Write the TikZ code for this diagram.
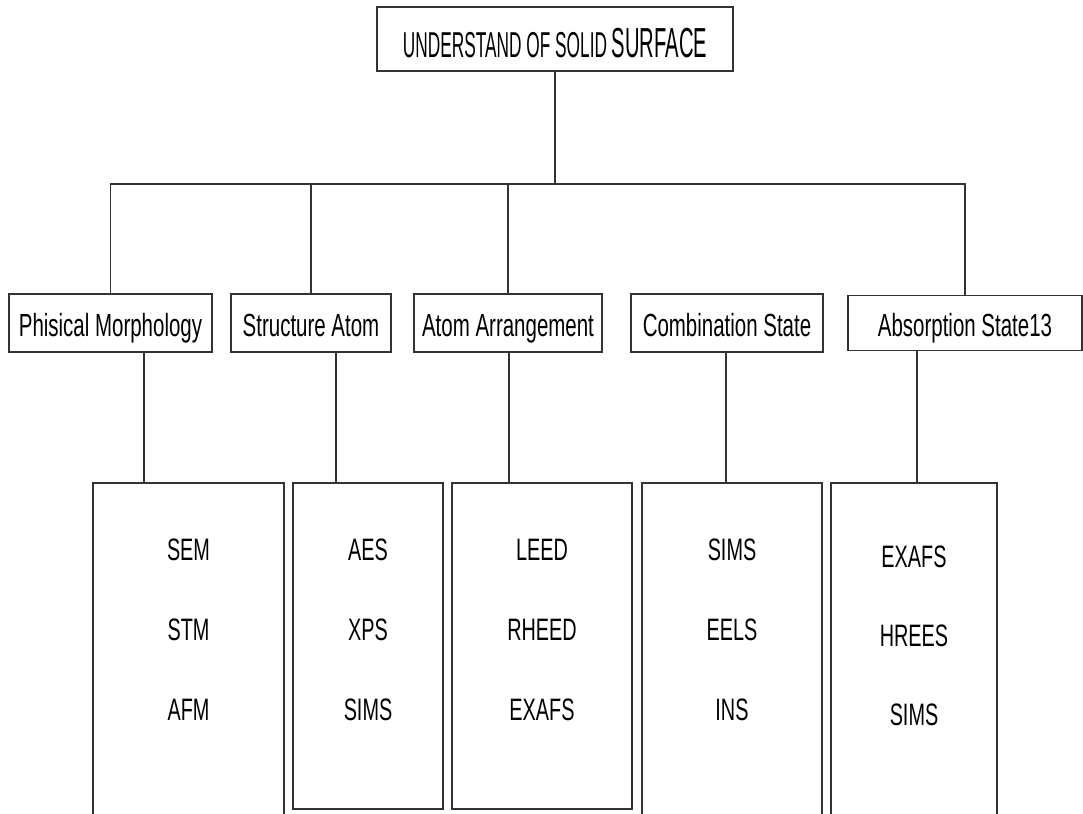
\documentclass[tikz,border=0pt]{standalone}
\usepackage{fontspec}
\setmainfont{Liberation Sans}
\newfontfamily\boxfont[FakeStretch=0.64]{Liberation Sans}
\newfontfamily\titlefont[FakeStretch=0.48]{Liberation Sans}
\usepackage{xcolor}
\definecolor{lineGray}{HTML}{333333}
\usetikzlibrary{positioning}
\tikzset{
    title/.style={
        draw=lineGray,
        line width=1.1pt,
        rectangle,
        inner sep=0pt,
        minimum width=356pt,
        minimum height=64pt,
        text height=38pt,
        text depth=0pt
    },
    topic/.style={
        draw=lineGray,
        line width=1.1pt,
        rectangle,
        inner sep=0pt,
        minimum height=58pt,
        text height=27pt,
        text depth=0pt,
        font=\boxfont\fontsize{32}{36}\selectfont
    },
    methods/.style={
        draw=lineGray,
        line width=1.1pt,
        rectangle,
        inner sep=0pt
    },
    item/.style={
        inner sep=0pt,
        font=\boxfont\fontsize{31}{36}\selectfont
    },
    link/.style={
        draw=lineGray,
        line width=1.1pt
    }
}

\begin{document}
\begin{tikzpicture}[x=1pt, y=-1pt]
    \clip (0,0) rectangle (1083,813);

    % Title
    \node[title] (surface) at (555,39)
        {\titlefont\fontsize{36}{40}\selectfont UNDERSTAND OF SOLID \fontsize{42}{46}\selectfont SURFACE};

    % Topics
    \node[topic, minimum width=203pt] (phys) at (110.5,323) {Phisical Morphology};
    \node[topic, minimum width=160pt] (struct) at (311,323) {Structure Atom};
    \node[topic, minimum width=188pt] (arrange) at (508,323) {Atom Arrangement};
    \node[topic, minimum width=192pt] (combo) at (727,323) {Combination State};
    \node[topic, minimum width=234pt, minimum height=55pt] (absorb) at (965,323) {Absorption State13};

    % Method boxes
    \node[methods, minimum width=191pt, minimum height=347pt] (mphys) at (188.5,656.5) {};
    \node[methods, minimum width=150pt, minimum height=326pt] (mstruct) at (368,646) {};
    \node[methods, minimum width=180pt, minimum height=326pt] (marrange) at (542,646) {};
    \node[methods, minimum width=180pt, minimum height=347pt] (mcombo) at (732,656.5) {};
    \node[methods, minimum width=166pt, minimum height=347pt] (mabsorb) at (914,656.5) {};

    % Methods
    \node[item] (sem) at (188.5,550) {SEM};
    \node[item] (stm) at (188.5,630) {STM};
    \node[item] (afm) at (188.5,710) {AFM};

    \node[item] (aes) at (368,550) {AES};
    \node[item] (xps) at (368,630) {XPS};
    \node[item] (simsa) at (368,710) {SIMS};

    \node[item] (leed) at (542,550) {LEED};
    \node[item] (rheed) at (542,630) {RHEED};
    \node[item] (exafsa) at (542,710) {EXAFS};

    \node[item] (simsb) at (732,550) {SIMS};
    \node[item] (eels) at (732,630) {EELS};
    \node[item] (ins) at (732,710) {INS};

    \node[item] (exafsb) at (914,557) {EXAFS};
    \node[item] (hrees) at (914,636) {HREES};
    \node[item] (simsc) at (914,715) {SIMS};

    % Tree lines
    \coordinate (bus) at (555,184);
    \draw[link] (surface.south) -- (bus);
    \draw[link] (phys.north) |- (bus) -| (absorb.north);
    \draw[link] (struct.north) -- (struct.north |- bus);
    \draw[link] (arrange.north) -- (arrange.north |- bus);

    \draw[link] ([xshift=33.5pt]phys.south) -- ([xshift=33.5pt]phys.south |- mphys.north);
    \draw[link] ([xshift=25pt]struct.south) -- ([xshift=25pt]struct.south |- mstruct.north);
    \draw[link] ([xshift=1pt]arrange.south) -- ([xshift=1pt]arrange.south |- marrange.north);
    \draw[link] ([xshift=-1pt]combo.south) -- ([xshift=-1pt]combo.south |- mcombo.north);
    \draw[link] ([xshift=-48pt]absorb.south) -- ([xshift=-48pt]absorb.south |- mabsorb.north);
\end{tikzpicture}
\end{document}
